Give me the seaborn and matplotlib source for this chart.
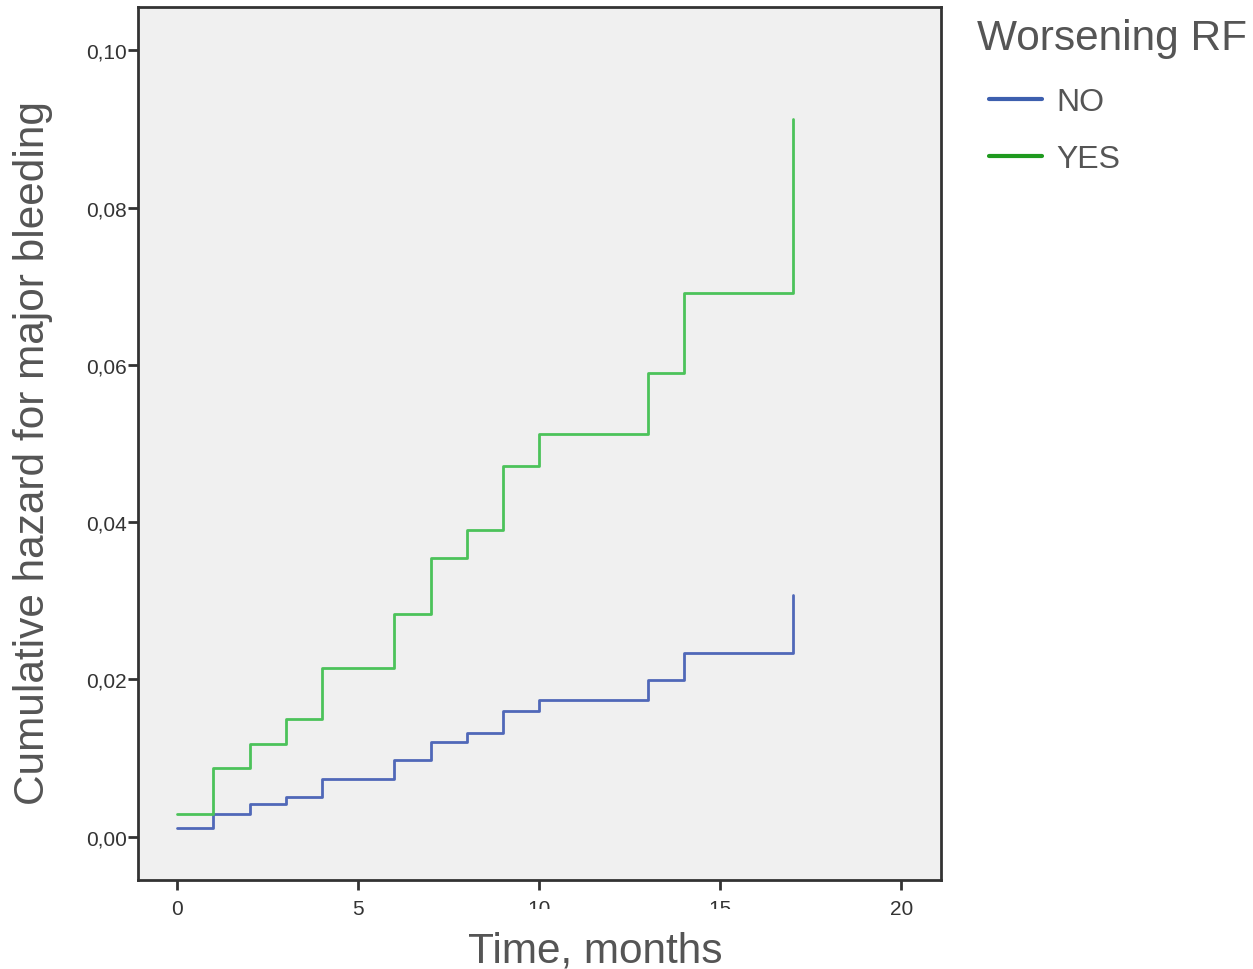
import numpy as np
import pandas as pd
import matplotlib
matplotlib.use("Agg")
import matplotlib.pyplot as plt
from matplotlib.lines import Line2D
from matplotlib.ticker import FuncFormatter
import seaborn as sns

# ---- data ----
times = [0, 1, 2, 3, 4, 6, 7, 8, 9, 10, 13, 14, 17]
hazard_no = [0.0011, 0.0029, 0.0041, 0.0051, 0.0074, 0.0097, 0.0121,
             0.0132, 0.0160, 0.0174, 0.0199, 0.0234, 0.0307]
hazard_yes = [0.0029, 0.0088, 0.0118, 0.0150, 0.0215, 0.0283, 0.0355,
              0.0390, 0.0471, 0.0512, 0.0590, 0.0691, 0.0912]
groups = ["NO", "YES"]
x_ticks = [0, 5, 10, 15, 20]
y_ticks = [0.00, 0.02, 0.04, 0.06, 0.08, 0.10]

# last plateau ends at 17 then jumps: repeat the 14-value at 17 so steps-post draws the jump
def build(vals):
    t = times[:-1] + [times[-1], times[-1]]
    v = vals[:-1] + [vals[-2], vals[-1]]
    return t, v

rows = []
for g, vals in zip(groups, [hazard_no, hazard_yes]):
    t, v = build(vals)
    for i, (ti, vi) in enumerate(zip(t, v)):
        rows.append({"time": ti, "hazard": vi, "group": g, "order": i})
df = pd.DataFrame(rows)

sns.set_theme(style="white")
plt.rcParams["font.family"] = ["Liberation Sans", "DejaVu Sans"]

line_colors = {"NO": "#5068b8", "YES": "#4cc25a"}
legend_colors = {"NO": "#3d5fae", "YES": "#1f9a1f"}

fig = plt.figure(figsize=(12.53, 9.70), dpi=100)
ax = fig.add_axes([138 / 1253, 1 - 881 / 970, (941 - 138) / 1253, (881 - 8) / 970])
ax.set_facecolor("#f0f0f0")

for g in groups:
    sub = df[df["group"] == g]
    sns.lineplot(data=sub, x="time", y="hazard", sort=False, estimator=None,
                 drawstyle="steps-post", color=line_colors[g], lw=2, ax=ax)

ax.set_xlim(-1.08, 21.1)
ax.set_ylim(-0.0055, 0.1055)
ax.set_xticks(x_ticks)
ax.set_yticks(y_ticks)
ax.yaxis.set_major_formatter(FuncFormatter(lambda v, p: f"{v:.2f}".replace(".", ",")))
ax.xaxis.set_major_formatter(FuncFormatter(lambda v, p: f"{int(v)}"))

for s in ax.spines.values():
    s.set_color("#333333")
    s.set_linewidth(2)
ax.tick_params(axis="both", which="major", direction="out", length=7, width=2,
               color="#333333", labelsize=15, labelcolor="#333333",
               bottom=True, left=True, top=False, right=False)
ax.tick_params(axis="x", pad=7)
ax.tick_params(axis="y", pad=1)

ax.set_xlabel("Time, months", fontsize=30.5, color="#555555")
ax.xaxis.set_label_coords(0.57, -0.058)
ax.set_ylabel("Cumulative hazard for major bleeding", fontsize=30.5, color="#555555")
ax.yaxis.set_label_coords(-0.106, 0.49)

# white band of the x-title box that hides the lower part of the "10" and "15" labels
fig.patches.append(plt.Rectangle((455 / 1253, 1 - 927 / 970), (740 - 455) / 1253, 17 / 970,
                                 transform=fig.transFigure, facecolor="white",
                                 edgecolor="none", zorder=10))

# legend: title as separate text, entries indented like the reference
fig.text(977 / 1253, 1 - 39 / 970, "Worsening RF", fontsize=30.5, color="#555555",
         ha="left", va="center")
handles = [Line2D([0], [0], color=legend_colors[g], lw=3) for g in groups]
leg = fig.legend(handles, groups, loc="upper left",
                 bbox_to_anchor=(989 / 1253, 1 - 88 / 970), frameon=False, fontsize=23,
                 handlelength=1.66, handletextpad=0.45, labelspacing=0.85,
                 borderpad=0, borderaxespad=0)
for t in leg.get_texts():
    t.set_color("#555555")

fig.savefig("out.png", dpi=100)
